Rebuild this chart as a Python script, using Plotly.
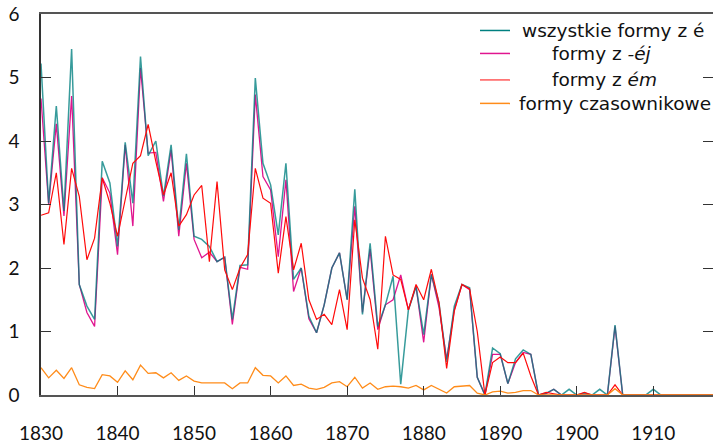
import plotly.graph_objects as go

years = list(range(1830, 1919))

wszystkie = [
    5.22, 3.02, 4.55, 2.90, 5.45, 1.74, 1.40, 1.19, 3.68, 3.34,
    2.34, 3.98, 3.02, 5.33, 3.77, 4.00, 3.13, 3.94, 2.60, 3.80,
    2.50, 2.45, 2.34, 2.10, 2.17, 1.19, 2.04, 2.05, 4.99, 3.65,
    3.31, 2.52, 3.65, 1.82, 2.00, 1.24, 0.98, 1.42, 2.00, 2.24,
    1.50, 3.24, 1.27, 2.39, 1.08, 1.42, 1.87, 0.17, 1.34, 1.71,
    0.95, 1.90, 1.45, 0.52, 1.40, 1.74, 1.69, 0.28, 0.00, 0.74,
    0.65, 0.18, 0.57, 0.71, 0.64, 0.00, 0.03, 0.09, 0.00, 0.09,
    0.00, 0.03, 0.00, 0.09, 0.00, 1.10, 0.00, 0.00, 0.00, 0.00,
    0.09, 0.00, 0.00, 0.00, 0.00, 0.00, 0.00, 0.00, 0.00,
]

formy_ej = [
    4.67, 3.00, 4.27, 2.82, 4.71, 1.74, 1.30, 1.08, 3.42, 3.18,
    2.21, 3.94, 2.66, 5.15, 3.81, 3.82, 3.05, 3.86, 2.50, 3.65,
    2.45, 2.16, 2.25, 2.10, 2.17, 1.11, 2.01, 1.98, 4.73, 3.44,
    3.23, 2.18, 3.39, 1.63, 2.00, 1.20, 0.98, 1.42, 2.00, 2.24,
    1.50, 2.97, 1.30, 2.30, 1.03, 1.42, 1.50, 1.89, 1.34, 1.71,
    0.83, 1.90, 1.38, 0.56, 1.34, 1.74, 1.66, 0.28, 0.00, 0.64,
    0.64, 0.18, 0.51, 0.67, 0.64, 0.00, 0.02, 0.09, 0.00, 0.00,
    0.00, 0.00, 0.00, 0.00, 0.00, 1.08, 0.00, 0.00, 0.00, 0.00,
    0.00, 0.00, 0.00, 0.00, 0.00, 0.00, 0.00, 0.00, 0.00,
]

formy_em = [
    2.83, 2.87, 3.50, 2.37, 3.57, 3.13, 2.13, 2.47, 3.42, 3.02,
    2.50, 3.07, 3.65, 3.77, 4.26, 3.68, 3.15, 3.50, 2.66, 2.84,
    3.15, 3.30, 2.10, 3.36, 1.97, 1.66, 2.00, 2.21, 3.57, 3.10,
    3.02, 1.92, 2.81, 1.97, 2.39, 1.50, 1.19, 1.27, 1.11, 1.66,
    1.03, 2.76, 1.84, 1.50, 0.72, 2.50, 1.89, 1.82, 1.34, 1.74,
    1.50, 1.98, 1.45, 0.42, 1.32, 1.74, 1.67, 1.00, 0.00, 0.51,
    0.60, 0.51, 0.51, 0.66, 0.30, 0.00, 0.04, 0.02, 0.00, 0.00,
    0.00, 0.04, 0.00, 0.00, 0.00, 0.16, 0.00, 0.00, 0.00, 0.00,
    0.00, 0.00, 0.00, 0.00, 0.00, 0.00, 0.00, 0.00, 0.00,
]

czasownikowe = [
    0.43, 0.27, 0.39, 0.26, 0.43, 0.16, 0.12, 0.10, 0.32, 0.30,
    0.20, 0.38, 0.24, 0.47, 0.34, 0.35, 0.27, 0.35, 0.23, 0.30,
    0.22, 0.19, 0.19, 0.19, 0.19, 0.10, 0.19, 0.19, 0.43, 0.31,
    0.30, 0.19, 0.30, 0.15, 0.17, 0.11, 0.09, 0.12, 0.19, 0.21,
    0.13, 0.28, 0.11, 0.19, 0.09, 0.13, 0.14, 0.13, 0.11, 0.15,
    0.08, 0.15, 0.09, 0.03, 0.13, 0.14, 0.15, 0.03, 0.00, 0.05,
    0.06, 0.03, 0.04, 0.07, 0.07, 0.00, 0.00, 0.00, 0.00, 0.00,
    0.00, 0.00, 0.00, 0.00, 0.00, 0.10, 0.00, 0.00, 0.00, 0.00,
    0.00, 0.00, 0.00, 0.00, 0.00, 0.00, 0.00, 0.00, 0.00,
]

x_ticks = [1830, 1840, 1850, 1860, 1870, 1880, 1890, 1900, 1910]
y_ticks = [0, 1, 2, 3, 4, 5, 6]

legend_labels = [
    "wszystkie formy z é",
    "formy z <i>-éj</i>",
    "formy z <i>ém</i>",
    "formy czasownikowe",
]
c_teal = "#008080"
c_mag = "#e0158f"
c_red = "#ff0a0a"
c_orange = "#ff8c1a"
legend_colors = [c_teal, c_mag, "#ff5a5a", c_orange]

fig = go.Figure()
fig.add_trace(go.Scatter(x=years, y=formy_ej, mode="lines",
                         line=dict(color=c_mag, width=1.3), showlegend=False))
fig.add_trace(go.Scatter(x=years, y=wszystkie, mode="lines", opacity=0.78,
                         line=dict(color=c_teal, width=1.5), showlegend=False))
fig.add_trace(go.Scatter(x=years, y=formy_em, mode="lines",
                         line=dict(color=c_red, width=1.2), showlegend=False))
fig.add_trace(go.Scatter(x=years, y=czasownikowe, mode="lines",
                         line=dict(color=c_orange, width=1.3), showlegend=False))

# custom legend (pixel positions converted to paper coordinates)
L, R, T, B = 41, 713, 14, 395.5
def px(xp):
    return (xp - L) / (R - L)
def py(yp):
    return (B - yp) / (B - T)

rows_y = [30.5, 53.5, 80, 103.5]
text_left = [520, 550, 550, 517]
for lab, col, yy, xl in zip(legend_labels, legend_colors, rows_y, text_left):
    fig.add_shape(type="line", xref="paper", yref="paper",
                  x0=px(480), x1=px(510), y0=py(yy), y1=py(yy),
                  line=dict(color=col, width=1.5))
    fig.add_annotation(xref="paper", yref="paper", x=px(xl), y=py(yy),
                       xanchor="left", yanchor="middle", showarrow=False,
                       text=lab, font=dict(size=18.5, color="#111",
                                           family="DejaVu Sans"))

fig.update_layout(
    width=713, height=443,
    margin=dict(l=41, r=0, t=14, b=47.5),
    plot_bgcolor="white", paper_bgcolor="white",
    showlegend=False,
    xaxis=dict(range=[1830, 1917.8], tickvals=x_ticks,
               ticktext=[str(v) for v in x_ticks],
               showgrid=False, zeroline=False,
               showline=True, linecolor="#555", linewidth=1.5, mirror=True,
               ticks="inside", ticklen=9, tickcolor="#333", tickwidth=1.3,
               ticklabelstandoff=20,
               tickfont=dict(size=19, color="#111", family="Lato")),
    yaxis=dict(range=[0, 6], tickvals=y_ticks,
               ticktext=[str(v) for v in y_ticks],
               showgrid=False, zeroline=False,
               showline=True, linecolor="#333", linewidth=1.5, mirror=False,
               ticks="inside", ticklen=10, tickcolor="#333", tickwidth=1.3,
               ticklabelstandoff=16,
               tickfont=dict(size=19, color="#111", family="Lato")),
    yaxis2=dict(range=[0, 6], tickvals=y_ticks, overlaying="y", side="right",
                matches="y", showgrid=False, zeroline=False, showline=False,
                showticklabels=False, ticks="inside", ticklen=10,
                tickcolor="#333", tickwidth=1.3),
)

# invisible helper trace so the right-hand tick axis is rendered
fig.add_trace(go.Scatter(x=[years[0]], y=[y_ticks[0]], yaxis="y2", mode="lines",
                         hoverinfo="skip", showlegend=False,
                         line=dict(color="rgba(0,0,0,0)")))

fig.write_html("out.html", config={"displayModeBar": False},
               post_script="document.body.style.margin='0';document.body.style.overflow='hidden';")
